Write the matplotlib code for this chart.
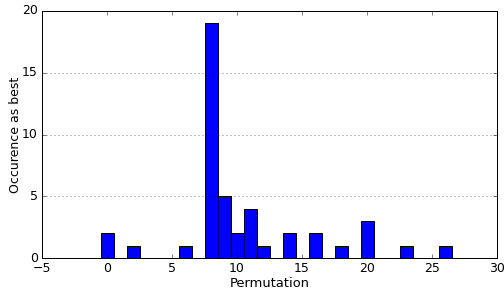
import matplotlib
matplotlib.use("Agg")
import matplotlib.pyplot as plt

permutations = [0, 2, 6, 8, 9, 10, 11, 12, 14, 16, 18, 20, 23, 26]
occurrences = [2, 1, 1, 19, 5, 2, 4, 1, 2, 2, 1, 3, 1, 1]

plt.style.use("classic")
fig = plt.figure(figsize=(7.0, 293 / 72), dpi=72)
ax = fig.add_axes([42 / 504, 1 - 258 / 293, 455 / 504, 247 / 293])
ax.bar(permutations, occurrences, width=1.0, align="center", color="b", edgecolor="k")
ax.set_xlim(-5, 30)
ax.set_ylim(0, 20)
ax.set_xticks([-5, 0, 5, 10, 15, 20, 25, 30])
ax.set_yticks([0, 5, 10, 15, 20])
ax.yaxis.grid(True, linestyle=":", color="k", linewidth=0.5)
ax.xaxis.grid(False)
ax.set_xlabel("Permutation", fontsize=13, labelpad=2)
ax.set_ylabel("Occurence as best", fontsize=12.5, labelpad=0)
ax.tick_params(labelsize=12.5)
fig.savefig("out.png", dpi=72)
